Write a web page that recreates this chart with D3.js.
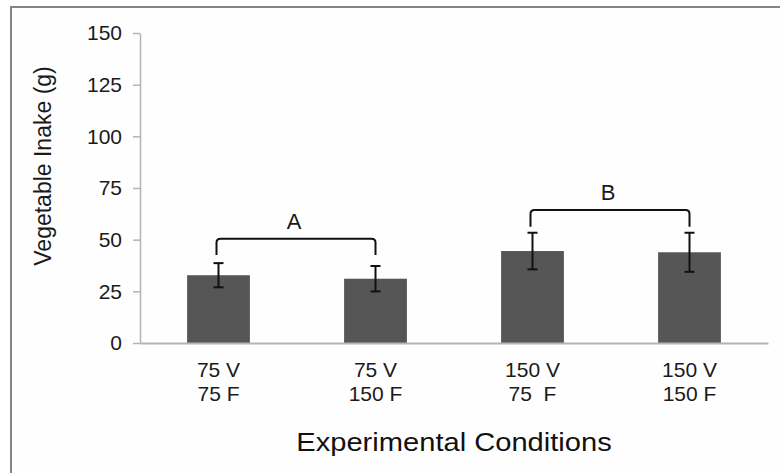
<!DOCTYPE html>
<html>
<head>
<meta charset="utf-8">
<script src="https://cdn.jsdelivr.net/npm/d3@7"></script>
<style>
  html, body { margin: 0; padding: 0; background: #fff; }
  svg { display: block; font-family: "Liberation Sans", Arial, sans-serif; }
</style>
</head>
<body>
<svg id="chart"></svg>
<script>
const width = 780, height = 473;

// data
const conditionsTop = ["75 V", "75 V", "150 V", "150 V"];
const conditionsBottom = ["75 F", "150 F", "75  F", "150 F"];
const intake = [32.8, 31.1, 44.5, 43.9];
const intakeErr = [5.85, 6.15, 8.85, 9.45];
const yTicks = [0, 25, 50, 75, 100, 125, 150];

// significance brackets (value units)
const bracketLabels = ["A", "B"];
const bracketFrom = [0, 2];
const bracketTo = [1, 3];
const bracketTop = [50.5, 64.4];
const bracketEnd = [42.6, 56.3];

const svg = d3.select("#chart")
    .attr("width", width)
    .attr("height", height);

// frame of the chart area
svg.append("rect")
    .attr("x", 11).attr("y", 7)
    .attr("width", 800).attr("height", 500)
    .attr("fill", "#fefefe")
    .attr("stroke", "#858585")
    .attr("stroke-width", 2);

const margin = {left: 140, right: 12, top: 33, bottom: 130};

const x = d3.scaleBand()
    .domain(d3.range(intake.length))
    .range([margin.left, width - margin.right])
    .paddingInner(0.6)
    .paddingOuter(0.3);

const y = d3.scaleLinear()
    .domain([0, 150])
    .range([height - margin.bottom, margin.top]);

// y axis
const yAxis = svg.append("g")
    .attr("transform", `translate(${margin.left},0)`)
    .call(d3.axisLeft(y).tickValues(yTicks).tickSize(7).tickSizeOuter(0).tickPadding(11));
yAxis.select(".domain").attr("stroke", "#b4b4b4").attr("stroke-width", 1.5);
yAxis.selectAll(".tick line").attr("stroke", "#b4b4b4").attr("stroke-width", 1.5);
yAxis.selectAll(".tick text")
    .attr("font-size", 21)
    .attr("fill", "#1a1a1a")
    .attr("font-family", "Liberation Sans, Arial, sans-serif");

// bars
svg.append("g")
    .selectAll("rect")
    .data(intake)
    .join("rect")
    .attr("x", (d, i) => x(i))
    .attr("y", d => y(d))
    .attr("width", x.bandwidth())
    .attr("height", d => y(0) - y(d))
    .attr("fill", "#565656");

// x axis
const xAxis = svg.append("g")
    .attr("transform", `translate(0,${y(0)})`)
    .call(d3.axisBottom(x).tickSize(0).tickSizeOuter(0).tickFormat(""));
xAxis.select(".domain").attr("stroke", "#b4b4b4").attr("stroke-width", 2);

const catLabel = xAxis.selectAll(".tick")
    .append("text")
    .attr("fill", "#1a1a1a")
    .attr("font-size", 21)
    .attr("text-anchor", "middle")
    .style("white-space", "pre");
catLabel.append("tspan").attr("x", 0).attr("y", 34).text((d, i) => conditionsTop[i]);
catLabel.append("tspan").attr("x", 0).attr("y", 58).text((d, i) => conditionsBottom[i]);

// error bars
const cx = i => x(i) + x.bandwidth() / 2;
const err = svg.append("g")
    .attr("stroke", "#111")
    .attr("stroke-width", 2)
    .selectAll("g")
    .data(intake)
    .join("g");
err.append("line")
    .attr("x1", (d, i) => cx(i)).attr("x2", (d, i) => cx(i))
    .attr("y1", (d, i) => y(d + intakeErr[i]))
    .attr("y2", (d, i) => y(d - intakeErr[i]));
err.append("line")
    .attr("x1", (d, i) => cx(i) - 5).attr("x2", (d, i) => cx(i) + 5)
    .attr("y1", (d, i) => y(d + intakeErr[i]))
    .attr("y2", (d, i) => y(d + intakeErr[i]));
err.append("line")
    .attr("x1", (d, i) => cx(i) - 5).attr("x2", (d, i) => cx(i) + 5)
    .attr("y1", (d, i) => y(d - intakeErr[i]))
    .attr("y2", (d, i) => y(d - intakeErr[i]));

// brackets
const r = 4;
const bracket = svg.append("g")
    .selectAll("g")
    .data(bracketLabels)
    .join("g");
bracket.append("path")
    .attr("fill", "none")
    .attr("stroke", "#111")
    .attr("stroke-width", 2)
    .attr("d", (d, i) => {
        const x1 = cx(bracketFrom[i]) - 2, x2 = cx(bracketTo[i]);
        const yt = y(bracketTop[i]), yb = y(bracketEnd[i]);
        return `M${x1},${yb} V${yt + r} Q${x1},${yt} ${x1 + r},${yt} H${x2 - r} Q${x2},${yt} ${x2},${yt + r} V${yb}`;
    });
bracket.append("text")
    .attr("x", (d, i) => (cx(bracketFrom[i]) + cx(bracketTo[i])) / 2 - 3)
    .attr("y", (d, i) => y(bracketTop[i]) - 10)
    .attr("text-anchor", "middle")
    .attr("font-size", 22)
    .attr("fill", "#1a1a1a")
    .text(d => d);

// axis titles
svg.append("text")
    .attr("transform", `translate(${(margin.left + width - margin.right) / 2},451) scale(1.12,1)`)
    .attr("text-anchor", "middle")
    .attr("font-size", 26)
    .attr("fill", "#111")
    .text("Experimental Conditions");

svg.append("text")
    .attr("transform", `translate(51,${(y(0) + y(150)) / 2 - 22}) rotate(-90)`)
    .attr("text-anchor", "middle")
    .attr("font-size", 23)
    .attr("fill", "#1a1a1a")
    .text("Vegetable Inake (g)");
</script>
</body>
</html>
